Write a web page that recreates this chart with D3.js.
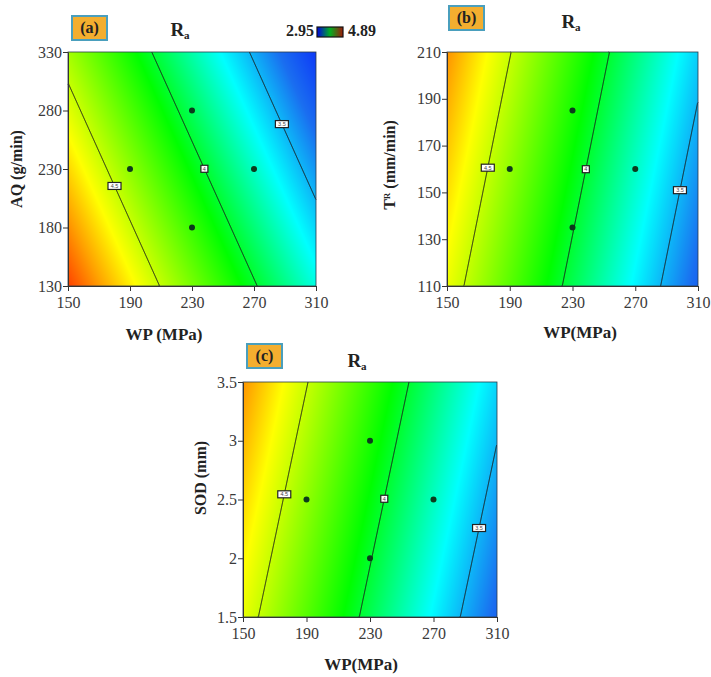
<!DOCTYPE html>
<html>
<head>
<meta charset="utf-8">
<script src="https://cdn.jsdelivr.net/npm/d3@7"></script>
<style>
  body { margin: 0; background: #fff; }
  svg text { font-family: "Liberation Serif", "Times New Roman", serif; }
</style>
</head>
<body>
<script>
// axis ticks
const wpTicks = [150, 190, 230, 270, 310];
const aqTicks = [130, 180, 230, 280, 330];
const trTicks = [110, 130, 150, 170, 190, 210];
const sodTicks = [1.5, 2, 2.5, 3, 3.5];

// Ra colour range and contour levels
const raRange = [2.95, 4.89];
const raLevels = [4.5, 4, 3.5];

// fitted model in coded units: [intercept, WP, second factor]
const coefA = [4.064, -0.635, -0.270];
const coefB = [4.068, -0.638, 0.120];
const coefC = [4.070, -0.629, 0.123];

// design points shown as dots
const ptsA = [[190, 230], [230, 280], [230, 180], [270, 230]];
const ptsB = [[190, 160], [230, 185], [230, 135], [270, 160]];
const ptsC = [[190, 2.5], [230, 3], [230, 2], [270, 2.5]];

// WP value where each contour label sits (same order as raLevels)
const labWpA = [180, 238, 288];
const labWpB = [176, 238.5, 298.5];
const labWpC = [176, 239, 298.7];

const W = 711, H = 677;
const svg = d3.select('body').append('svg').attr('width', W).attr('height', H);

const color = d3.scaleLinear()
  .domain([2.95, 3.35, 3.65, 4.08, 4.62, 4.8, 5.0])
  .range(['#0000ff', '#1a6ef0', '#00ffff', '#00ff00', '#ffff00', '#ffa000', '#ff3000'])
  .clamp(true);

const panels = [
  { tag: '(a)', yTicks: aqTicks, coef: coefA, pts: ptsA, labWp: labWpA,
    plot: [68, 52, 316, 286], box: [72, 16], title: [180, 36],
    ylab: [{ t: 'AQ (g/min)' }], ylabPos: [22, 169], xlab: 'WP (MPa)', xlabPos: [164, 340] },
  { tag: '(b)', yTicks: trTicks, coef: coefB, pts: ptsB, labWp: labWpB,
    plot: [447, 52, 698, 286], box: [449, 6], title: [571, 28],
    ylab: [{ t: 'T' }, { t: 'R', sup: true }, { t: ' (mm/min)' }], ylabPos: [395, 165], xlab: 'WP(MPa)', xlabPos: [580, 338] },
  { tag: '(c)', yTicks: sodTicks, coef: coefC, pts: ptsC, labWp: labWpC,
    plot: [243, 382, 497, 617], box: [247, 344], title: [357, 367],
    ylab: [{ t: 'SOD (mm)' }], ylabPos: [206, 478], xlab: 'WP(MPa)', xlabPos: [361, 670] }
];

panels.forEach(p => {
  const [x0, y0, x1, y1] = p.plot;
  const xDom = d3.extent(wpTicks), yDom = d3.extent(p.yTicks);
  const x = d3.scaleLinear().domain(xDom).range([x0, x1]);
  const y = d3.scaleLinear().domain(yDom).range([y1, y0]);
  const xc = (xDom[0] + xDom[1]) / 2, xh = (xDom[1] - xDom[0]) / 2;
  const yc = (yDom[0] + yDom[1]) / 2, yh = (yDom[1] - yDom[0]) / 2;
  const ra = (wp, v) => p.coef[0] + p.coef[1] * (wp - xc) / xh + p.coef[2] * (v - yc) / yh;

  // sample the surface one cell per pixel
  const nx = Math.round(x1 - x0), ny = Math.round(y1 - y0);
  const gx = d3.scaleLinear().domain([0, nx]).range([x0, x1]);
  const gy = d3.scaleLinear().domain([0, ny]).range([y0, y1]);
  const values = new Array(nx * ny);
  const cv = document.createElement('canvas');
  cv.width = nx; cv.height = ny;
  const ctx = cv.getContext('2d');
  const img = ctx.createImageData(nx, ny);
  for (let j = 0; j < ny; j++) {
    for (let i = 0; i < nx; i++) {
      const v = ra(x.invert(gx(i + 0.5)), y.invert(gy(j + 0.5)));
      values[j * nx + i] = v;
      const c = d3.rgb(color(v));
      const k = (j * nx + i) * 4;
      img.data[k] = c.r; img.data[k + 1] = c.g; img.data[k + 2] = c.b; img.data[k + 3] = 255;
    }
  }
  ctx.putImageData(img, 0, 0);

  const g = svg.append('g');
  g.append('image')
    .attr('href', cv.toDataURL())
    .attr('x', x0).attr('y', y0)
    .attr('width', x1 - x0).attr('height', y1 - y0)
    .attr('preserveAspectRatio', 'none');

  // contour lines, dropping the parts that run along the frame
  const contours = d3.contours().size([nx, ny]).thresholds(raLevels)(values);
  const onEdge = pt => pt[0] === 0 || pt[0] === nx || pt[1] === 0 || pt[1] === ny;
  const line = d3.line().x(d => gx(d[0])).y(d => gy(d[1]));
  const draw = run => g.append('path').attr('d', line(run))
    .attr('fill', 'none').attr('stroke', '#1a1a1a').attr('stroke-width', 1);
  contours.forEach(c => {
    c.coordinates.forEach(poly => poly.forEach(ring => {
      let run = [];
      for (let k = 1; k < ring.length; k++) {
        const a = ring[k - 1], b = ring[k];
        if (onEdge(a) && onEdge(b)) {
          if (run.length > 1) draw(run);
          run = [];
        } else {
          if (!run.length) run.push(a);
          run.push(b);
        }
      }
      if (run.length > 1) draw(run);
    }));
  });

  // frame
  g.append('rect').attr('x', x0).attr('y', y0).attr('width', x1 - x0).attr('height', y1 - y0)
    .attr('fill', 'none').attr('stroke', '#2a3a4a').attr('stroke-width', 0.8);

  // design points
  g.selectAll('circle.pt').data(p.pts).enter().append('circle')
    .attr('class', 'pt')
    .attr('cx', d => x(d[0])).attr('cy', d => y(d[1])).attr('r', 3)
    .attr('fill', '#0c3a1c');

  // contour labels
  raLevels.forEach((lv, i) => {
    const wp = p.labWp[i];
    const v = yc + yh * (lv - p.coef[0] - p.coef[1] * (wp - xc) / xh) / p.coef[2];
    const txt = d3.format('~g')(lv);
    const bw = txt.length * 3 + 4, bh = 7;
    const lg = g.append('g').attr('transform', `translate(${x(wp)},${y(v)})`);
    lg.append('rect').attr('x', -bw / 2).attr('y', -bh / 2).attr('width', bw).attr('height', bh)
      .attr('fill', '#fff').attr('stroke', '#222').attr('stroke-width', 1.2);
    lg.append('text').text(txt).attr('text-anchor', 'middle').attr('y', 2)
      .style('font-family', '"Liberation Sans", sans-serif').attr('font-size', 5.5).attr('fill', '#444');
  });

  // axes
  const xAxis = d3.axisBottom(x).tickValues(wpTicks).tickSize(5).tickSizeOuter(0).tickFormat(d => d);
  const yAxis = d3.axisLeft(y).tickValues(p.yTicks).tickSize(5).tickSizeOuter(0).tickFormat(d => d);
  const gxA = g.append('g').attr('transform', `translate(0,${y1})`).call(xAxis);
  const gyA = g.append('g').attr('transform', `translate(${x0},0)`).call(yAxis);
  [gxA, gyA].forEach(a => {
    a.select('.domain').attr('stroke', '#333');
    a.selectAll('.tick line').attr('stroke', '#333');
    a.selectAll('.tick text').attr('font-size', 16).attr('fill', '#3a3a3a')
      .style('font-family', '"Liberation Serif", serif');
  });
  gxA.selectAll('.tick text').attr('dy', '0.9em');
  gyA.selectAll('.tick text').attr('x', -6);

  // axis titles
  g.append('text').text(p.xlab)
    .attr('x', p.xlabPos[0]).attr('y', p.xlabPos[1])
    .attr('text-anchor', 'middle').attr('font-weight', 'bold').attr('font-size', 17).attr('fill', '#222');
  const yl = g.append('text')
    .attr('transform', `translate(${p.ylabPos[0]},${p.ylabPos[1]}) rotate(-90)`)
    .attr('text-anchor', 'middle').attr('font-weight', 'bold').attr('font-size', 16).attr('fill', '#222');
  p.ylab.forEach(s => {
    const ts = yl.append('tspan').text(s.t);
    if (s.sup) ts.attr('font-size', 9).attr('baseline-shift', '55%');
  });

  // panel tag box
  g.append('rect').attr('x', p.box[0]).attr('y', p.box[1]).attr('width', 35).attr('height', 24)
    .attr('fill', '#f3ae2f').attr('stroke', '#4a9fbd').attr('stroke-width', 2);
  g.append('text').text(p.tag)
    .attr('x', p.box[0] + 17.5).attr('y', p.box[1] + 17)
    .attr('text-anchor', 'middle').attr('font-weight', 'bold').attr('font-size', 16).attr('fill', '#222');

  // title R_a
  const tt = g.append('text').attr('x', p.title[0]).attr('y', p.title[1])
    .attr('text-anchor', 'middle').attr('font-weight', 'bold').attr('font-size', 19).attr('fill', '#222');
  tt.append('tspan').text('R');
  tt.append('tspan').text('a').attr('font-size', 11).attr('baseline-shift', '-25%');
});

// colour bar legend
const defs = svg.append('defs');
const grad = defs.append('linearGradient').attr('id', 'cbar');
grad.selectAll('stop').data(['#0000e0', '#00b020', '#a01808']).enter().append('stop')
  .attr('offset', (d, i) => i / 2).attr('stop-color', d => d);
svg.append('text').text(d3.format('.2f')(raRange[0]))
  .attr('x', 314).attr('y', 36).attr('text-anchor', 'end')
  .attr('font-weight', 'bold').attr('font-size', 16).attr('fill', '#222');
svg.append('rect').attr('x', 317).attr('y', 27).attr('width', 26).attr('height', 10)
  .attr('fill', 'url(#cbar)').attr('stroke', '#111').attr('stroke-width', 1.2);
svg.append('text').text(d3.format('.2f')(raRange[1]))
  .attr('x', 348).attr('y', 36)
  .attr('font-weight', 'bold').attr('font-size', 16).attr('fill', '#222');
</script>
</body>
</html>
